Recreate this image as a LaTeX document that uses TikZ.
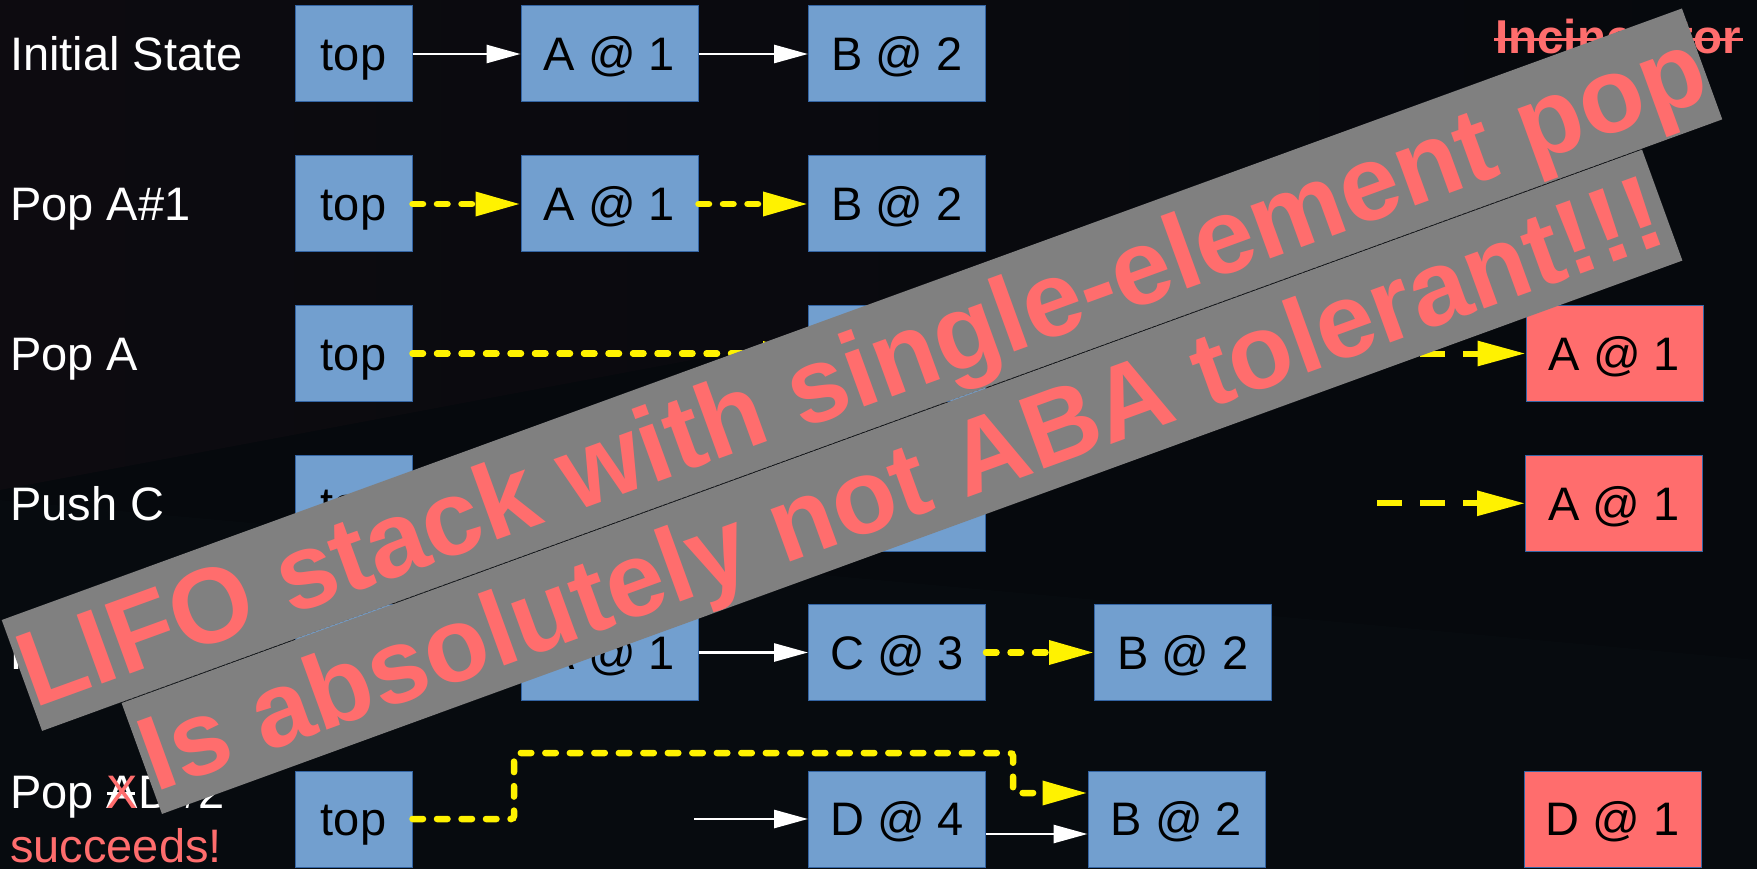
\documentclass[tikz,border=0pt]{standalone}
\usepackage{fontspec}
\setmainfont{Liberation Sans}
\usetikzlibrary{arrows.meta,calc}
\definecolor{bgbase}{HTML}{06090D}
\definecolor{bgtop}{HTML}{0D0B10}
\definecolor{bglow}{HTML}{070B0F}
\definecolor{boxblue}{HTML}{729FCF}
\definecolor{boxedge}{HTML}{3465A4}
\definecolor{boxred}{HTML}{FF6D6D}
\definecolor{warn}{HTML}{FF6D6D}
\definecolor{bannergray}{HTML}{808080}
\definecolor{seam}{HTML}{6E6E6E}
\newcommand{\boxfont}{\fontsize{47pt}{54pt}\selectfont}
\newcommand{\bannerfontA}{\fontsize{106.5pt}{120pt}\selectfont\bfseries}
\newcommand{\bannerfontB}{\fontsize{105.5pt}{120pt}\selectfont\bfseries}
\newcommand{\incfont}{\fontsize{47.5pt}{52pt}\selectfont\bfseries}
\tikzset{
  stackbox/.style={draw=boxedge, fill=boxblue, line width=1pt, minimum width=177pt,
    minimum height=96pt, inner sep=0pt, text=black, font=\boxfont,
    text height=33.7pt, text depth=0pt},
  topbox/.style={stackbox, minimum width=117pt},
  redbox/.style={stackbox, fill=boxred},
  wline/.style={draw=white, line width=2.7pt, -{Triangle[length=34pt,width=18pt]}},
  ydot/.style={draw=yellow, line width=6.5pt, line cap=round, dash pattern=on 10.5pt off 14pt,
    -{Triangle[length=45pt,width=23pt]}},
  ydash/.style={draw=yellow, line width=6pt, dash pattern=on 25pt off 18pt,
    -{Triangle[length=48pt,width=24pt]}},
  lbl/.style={text=white, font=\boxfont, anchor=base west, inner sep=0pt},
  bannerbox/.style={fill=bannergray, rotate=20, minimum height=118pt, inner sep=0pt},
  bannertext/.style={text=warn, rotate=20, anchor=base, inner sep=0pt},
}
\begin{document}
\begin{tikzpicture}[x=1pt,y=-1pt]
\useasboundingbox (0,0) rectangle (1757,869);
% background
\fill[bgbase] (0,0) rectangle (1757,869);
\shade[left color=bgtop, right color=bgbase] (0,0) -- (1757,0) -- (1757,160) -- (0,490) -- cycle;
\fill[bglow] (0,500) -- (1757,660) -- (1757,869) -- (0,869) -- cycle;

% row 1
\node[lbl] (l1) at (10,70.7) {Initial State};
\node[topbox] (t1) at (353.5,54) {top};
\node[stackbox] (a1) at (609.5,54) {A @ 1};
\node[stackbox] (b1) at (897,54) {B @ 2};
\draw[wline] (t1) -- (a1);
\draw[wline] (a1) -- (b1);
\node[text=warn, font=\incfont, anchor=base west, inner sep=0pt] (inc) at (1495,53.3) {Incinerator};
\draw[warn, line width=3pt] (1494,40) -- (1743,40);

% row 2
\node[lbl] (l2) at (10,220.8) {Pop A\#1};
\node[topbox] (t2) at (353.5,204) {top};
\node[stackbox] (a2) at (609.5,204) {A @ 1};
\node[stackbox] (b2) at (897,204) {B @ 2};
\draw[ydot] (t2) -- (a2);
\draw[ydot] (a2) -- (b2);

% row 3
\node[lbl] (l3) at (10,370.3) {Pop A};
\node[topbox] (t3) at (353.5,353.5) {top};
\node[stackbox] (c3) at (897,353.5) {B @ 2};
\node[redbox] (r3) at (1614.5,353.5) {A @ 1};
\draw[ydot] (t3) -- (c3);
\coordinate (s3) at (1377,353.5);
\draw[ydash] (s3) -- (r3);

% row 4
\node[lbl] (l4) at (10,520.1) {Push C};
\node[topbox] (t4) at (353.5,503.3) {top};
\node[stackbox] (c4) at (897,503.3) {C @ 3};
\node[redbox] (r4) at (1614,503.3) {A @ 1};
\coordinate (s4) at (1377,503.3);
\draw[ydash] (s4) -- (r4);

% row 5
\node[lbl] (l5) at (10,669.3) {Push A};
\node[topbox] (t5) at (353.5,652.5) {top};
\node[stackbox] (a5) at (609.5,652.5) {A @ 1};
\node[stackbox] (c5) at (897,652.5) {C @ 3};
\node[stackbox] (b5) at (1183,652.5) {B @ 2};
\draw[wline] (a5) -- (c5);
\draw[ydot] (c5) -- (b5);

% row 6
\node[lbl] (l6) at (10,808) {Pop AD\#2};
\draw[white, line width=3pt] (107,793) -- (135,793);
\node[text=warn, font=\boxfont, anchor=base west, inner sep=0pt] (x6) at (106,808) {X};
\node[lbl, text=warn] (l6b) at (10,862) {succeeds!};
\node[topbox] (t6) at (353.5,819) {top};
\node[stackbox] (d6) at (897,819) {D @ 4};
\node[stackbox] (b6) at (1176.5,819) {B @ 2};
\node[redbox] (r6) at (1612.5,819) {D @ 1};
\coordinate (w6) at (694,819);
\draw[wline] (w6) -- (d6);
\draw[wline] ($(d6.east)+(0,15)$) -- ($(b6.west)+(0,15)$);
\coordinate (k1) at (514,753);
\coordinate (k2) at (1013,793);
\draw[ydot, rounded corners=3pt] (t6.east) -| (k1) -| (k2) -- (k2 -| b6.west);

% banners
\node[bannerbox, minimum width=1618pt] (bn2) at (902,481.8) {};
\node[bannerbox, minimum width=1788pt] (bn1) at (862,369.7) {};
\draw[seam, line width=0.4pt, dash pattern=on 2pt off 3pt] (121.6,702) -- (1641.5,148.8);
\node[bannertext, font=\bannerfontA] (bt1) at (874.1,403.1) {LIFO stack with single-element pop};
\node[bannertext, font=\bannerfontB] (bt2) at (913,517.1) {Is absolutely not ABA tolerant!!!};
\end{tikzpicture}
\end{document}
